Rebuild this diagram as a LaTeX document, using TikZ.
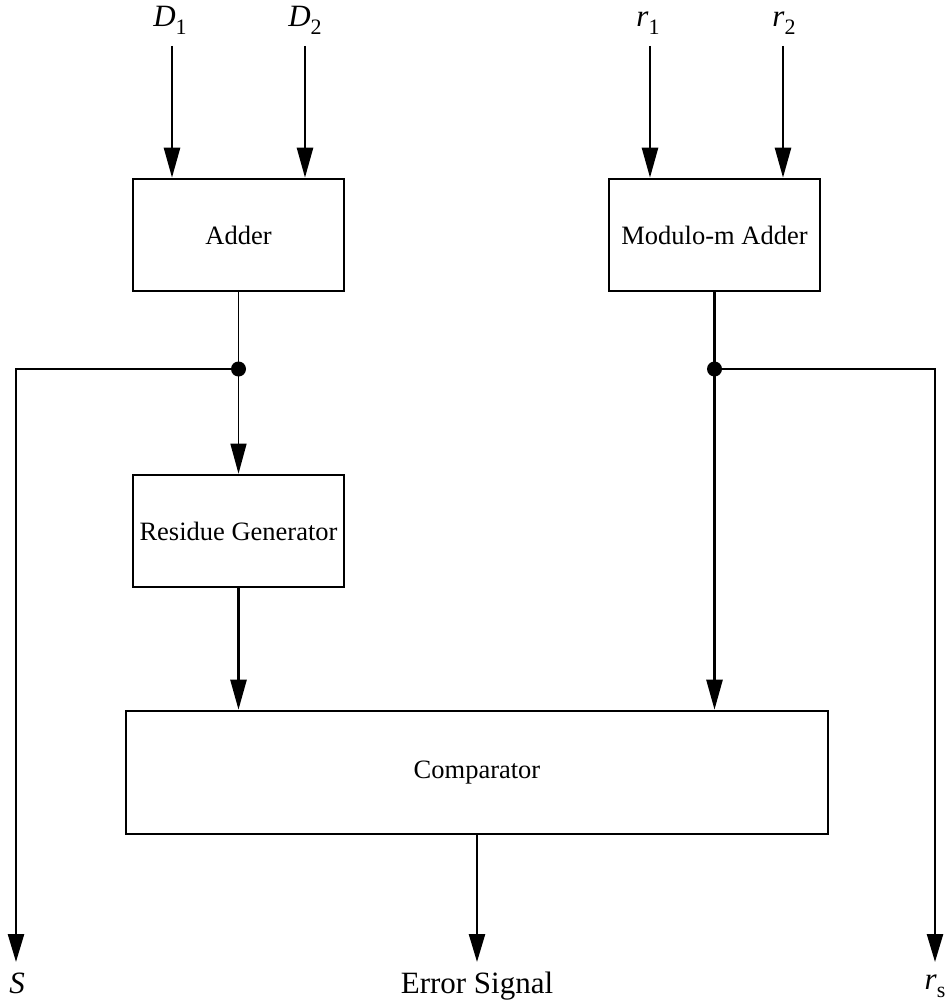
\documentclass[tikz,border=0pt]{standalone}
\usepackage{fontspec}
\setmainfont{Liberation Serif}
\usetikzlibrary{arrows.meta}
% italic symbol with a lowered upright index
\newcommand{\sym}[2]{{\itshape #1}\raisebox{-8pt}{\fontsize{22}{22}\selectfont #2}}
\begin{document}
\begin{tikzpicture}[x=1pt,y=-1pt,
  block/.style={draw,line width=2.6pt,inner sep=0pt,font=\fontsize{26.5}{30}\selectfont},
  wire/.style={line width=2.5pt},
  arr/.style={wire,-{Triangle[length=30pt,width=16pt]}},
  outarr/.style={wire,-{Triangle[length=28pt,width=16pt]}},
  lbl/.style={anchor=base,inner sep=0pt,font=\fontsize{31}{36}\selectfont},
  junction/.style={circle,fill,inner sep=0pt,minimum size=15pt}]
\useasboundingbox (0,0) rectangle (952,1003);

% blocks
\node[block,minimum width=211pt,minimum height=112pt] (adder)  at (238.5,235) {Adder};
\node[block,minimum width=211pt,minimum height=112pt] (modadd) at (714.5,235) {Modulo-m Adder};
\node[block,minimum width=211pt,minimum height=112pt] (resgen) at (238.5,531) {Residue Generator};
\node[block,minimum width=702pt,minimum height=123pt] (comp)   at (477,772.5) {Comparator};

% input labels
\node[lbl] (D1) at (170,27) {\sym{D}{1}};
\node[lbl] (D2) at (305,27) {\sym{D}{2}};
\node[lbl] (r1) at (648,27) {\sym{r}{1}};
\node[lbl] (r2) at (784,27) {\sym{r}{2}};

% output labels
\node[lbl] (S)   at (17,993)  {\itshape S};
\node[lbl] (err) at (477,993) {Error Signal};
\node[lbl] (rs)  at (935,989) {\sym{r}{s}};

% wire end points
\coordinate (d1top) at (172,46);
\coordinate (d2top) at (305,46);
\coordinate (r1top) at (650,46);
\coordinate (r2top) at (783,46);
\coordinate (jrow)  at (0,369);
\coordinate (sout)  at (16,962);
\coordinate (rsout) at (935,962);
\coordinate (errout) at (477,962);

% junction dots
\node[junction] (j1) at (adder.south |- jrow) {};
\node[junction] (j2) at (modadd.south |- jrow) {};

% inputs
\draw[arr] (d1top) -- (d1top |- adder.north);
\draw[arr] (d2top) -- (d2top |- adder.north);
\draw[arr] (r1top) -- (r1top |- modadd.north);
\draw[arr] (r2top) -- (r2top |- modadd.north);

% internal connections
\draw[arr,line width=1.3pt] (adder.south) -- (resgen.north);
\draw[arr] (resgen.south) -- (resgen.south |- comp.north);
\draw[arr] (modadd.south) -- (modadd.south |- comp.north);

% outputs
\draw[outarr] (j1) -| (sout);
\draw[outarr] (j2) -| (rsout);
\draw[outarr] (comp.south) -- (errout);
\end{tikzpicture}
\end{document}
